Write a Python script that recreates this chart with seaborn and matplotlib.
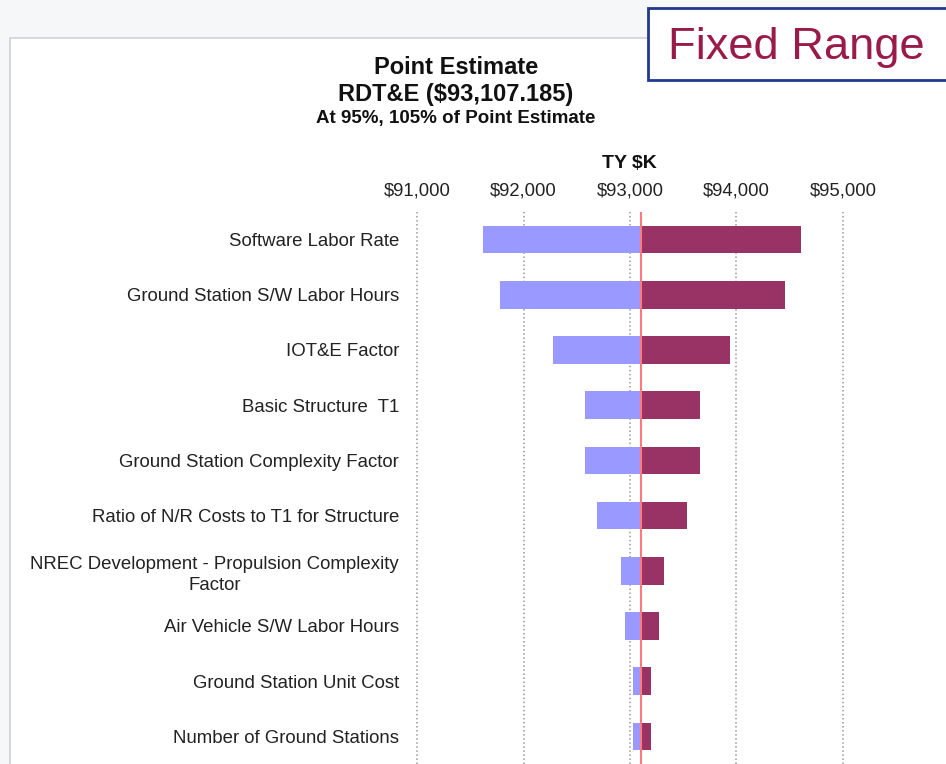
import numpy as np
import pandas as pd
import matplotlib
matplotlib.use('Agg')
import matplotlib.pyplot as plt
from matplotlib.patches import Rectangle
from matplotlib.ticker import FixedLocator, FuncFormatter
import seaborn as sns

POINT = 93107.185

drivers = [
    'Software Labor Rate',
    'Ground Station S/W Labor Hours',
    'IOT&E Factor',
    'Basic Structure  T1',
    'Ground Station Complexity Factor',
    'Ratio of N/R Costs to T1 for Structure',
    'NREC Development - Propulsion Complexity\nFactor',
    'Air Vehicle S/W Labor Hours',
    'Ground Station Unit Cost',
    'Number of Ground Stations',
]
low_values = [91620, 91776, 92280, 92574, 92574, 92690, 92912, 92950, 93028, 93028]
high_values = [94606, 94452, 93935, 93654, 93654, 93538, 93316, 93269, 93200, 93200]
tick_values = [91000, 92000, 93000, 94000, 95000]

rows = []
for d, lo, hi in zip(drivers, low_values, high_values):
    rows.append({'Driver': d, 'Case': 'Low', 'Delta': lo - POINT})
    rows.append({'Driver': d, 'Case': 'High', 'Delta': hi - POINT})
df = pd.DataFrame(rows)

sns.set_style('white')
plt.rcParams['font.family'] = ['Liberation Sans', 'DejaVu Sans']

fig = plt.figure(figsize=(9.46, 7.64), dpi=100, facecolor='#f6f7f9')

# chart area frame
fig.patches.append(Rectangle((10 / 946, -0.05), 1.0, 1 - 38 / 764 + 0.05,
                             transform=fig.transFigure, facecolor='white',
                             edgecolor='#cfd2d6', lw=1.2, zorder=-5))

ax = fig.add_axes([410 / 946, 0.0, 440 / 946, 1 - 212 / 764])
ax.set_facecolor('none')

sns.barplot(data=df, x='Delta', y='Driver', hue='Case', order=drivers,
            palette={'Low': '#9999ff', 'High': '#993366'}, dodge=False,
            width=0.5, linewidth=0, saturation=1, legend=False, ax=ax, orient='h')

ax.axvline(0, color='#ff7b7b', lw=1.5, zorder=3)

ax.set_xlim(90934 - POINT, 95066 - POINT)
ax.set_ylim(len(drivers) - 0.5, -0.5)
ax.xaxis.tick_top()
ax.xaxis.set_major_locator(FixedLocator([v - POINT for v in tick_values]))
ax.xaxis.set_major_formatter(FuncFormatter(lambda x, p: f'${x + POINT:,.0f}'))
ax.tick_params(axis='x', length=0, pad=9, labelsize=13.3, colors='#222222')
ax.tick_params(axis='y', length=0, pad=8, labelsize=13.4, colors='#222222')
for lab in ax.get_yticklabels():
    lab.set_multialignment('center')
    lab.set_linespacing(1.3)
ax.set_xlabel('')
ax.set_ylabel('')
ax.grid(axis='x', linestyle=':', color='#999999', lw=1.1)
ax.set_axisbelow(True)
for s in ax.spines.values():
    s.set_visible(False)

fig.text(456 / 946, 1 - 67 / 764, 'Point Estimate', ha='center', va='center',
         fontsize=17, fontweight='bold', color='#111111')
fig.text(456 / 946, 1 - 94 / 764, 'RDT&E ($93,107.185)', ha='center', va='center',
         fontsize=17, fontweight='bold', color='#111111')
fig.text(456 / 946, 1 - 119 / 764, 'At 95%, 105% of Point Estimate', ha='center',
         va='center', fontsize=13.5, fontweight='bold', color='#111111')
fig.text(629 / 946, 1 - 163 / 764, 'TY $K', ha='center', va='center',
         fontsize=14, fontweight='bold', color='#111111')

# "Fixed Range" callout box
fig.patches.append(Rectangle((648 / 946, 1 - 80 / 764), 0.4, 72 / 764,
                             transform=fig.transFigure, facecolor='white',
                             edgecolor='#1f3a8a', lw=2, zorder=5))
fig.text(668 / 946, 1 - 47 / 764, 'Fixed Range', ha='left', va='center',
         fontsize=32.6, color='#9b1b48', zorder=6)

fig.savefig('out.png', dpi=100, facecolor=fig.get_facecolor())
